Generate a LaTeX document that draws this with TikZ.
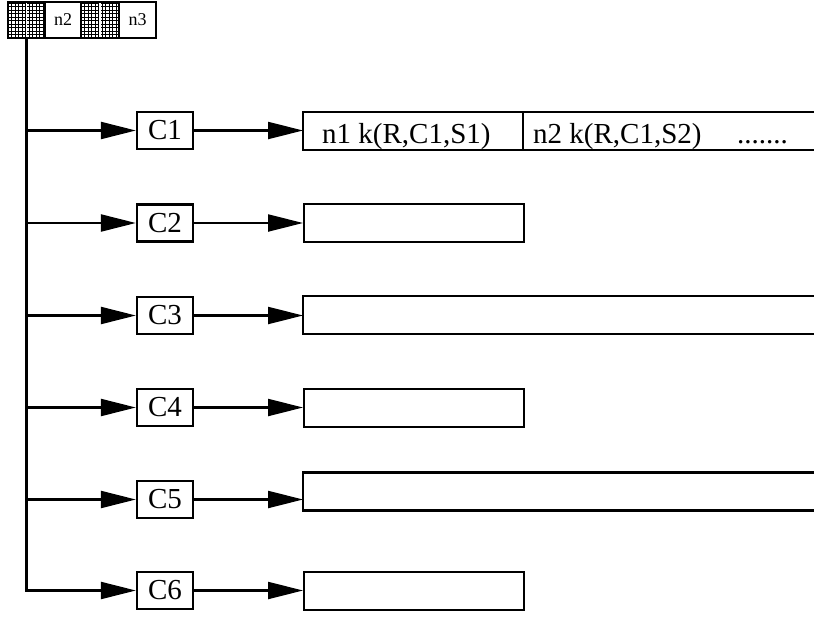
\documentclass[tikz,border=0pt]{standalone}
\usepackage{fontspec}
\setmainfont{Liberation Serif}
\usetikzlibrary{arrows.meta}
\begin{document}
\begin{tikzpicture}[x=1pt,y=-1pt,
  lw/.style={line width=2.3pt},
  arr/.style={line width=2.2pt,-{Triangle[length=35pt,width=17pt]}},
  cbox/.style={draw,lw,minimum width=56pt,minimum height=37pt,inner sep=0pt,font=\fontsize{29}{31}\selectfont},
  rbox/.style={draw,lw,minimum width=220pt,minimum height=37.5pt,inner sep=0pt,anchor=west},
  rlong/.style={minimum width=530pt,minimum height=37.5pt,inner sep=0pt,anchor=west},
  hcell/.style={draw,lw,minimum height=36pt,inner sep=0pt,font=\fontsize{18}{20}\selectfont},
  hatch/.style={hcell,path picture={
     \foreach \i in {1,...,10}{
       \draw[line width=0.8pt] ([xshift=\i*3.5pt]path picture bounding box.south west) -- ([xshift=\i*3.5pt]path picture bounding box.north west);
       \draw[line width=0.8pt] ([yshift=\i*3.5pt]path picture bounding box.south west) -- ([yshift=\i*3.5pt]path picture bounding box.south east);}
     \draw[white,line width=1.2pt] (path picture bounding box.south) -- (path picture bounding box.north);}},
  txt/.style={font=\fontsize{29}{31}\selectfont,anchor=base west,inner sep=0pt}
]
\useasboundingbox[fill=white] (0,0) rectangle (814,616);

% header
\node[hatch,minimum width=37pt] (h1) at (26.5,20) {};
\node[hcell,minimum width=36pt] (h2) at (63,20) {\raisebox{-6pt}{n2}};
\node[hatch,minimum width=38pt] (h3) at (100,20) {};
\node[hcell,minimum width=37pt] (h4) at (137.5,20) {\raisebox{-6pt}{n3}};

% C boxes
\node[cbox] (c1) at (165,130.5) {C1};
\node[cbox] (c2) at (165,223) {C2};
\node[cbox] (c3) at (165,315.5) {C3};
\node[cbox] (c4) at (165,407.5) {\raisebox{-5pt}{C4}};
\node[cbox] (c5) at (165,499.5) {C5};
\node[cbox] (c6) at (165,590.5) {C6};

% right boxes
\node[rlong] (r1) at (303,131) {};
\draw[lw] (r1.north east) -- (r1.north west) -- (r1.south west) -- (r1.south east);
\node[rbox] (r2) at (303,223) {};
\node[rlong] (r3) at (303,315) {};
\draw[lw] (r3.north east) -- (r3.north west) -- (r3.south west) -- (r3.south east);
\node[rbox] (r4) at (303,408) {};
\node[rlong] (r5) at (303,491.5) {};
\draw[lw] (r5.north east) -- (r5.north west) -- (r5.south west) -- (r5.south east);
\node[rbox] (r6) at (303,591) {};

% C1 row contents
\coordinate (sep) at (523,131);
\draw[line width=1.6pt] (sep |- r1.north) -- (sep |- r1.south);
\node[txt] (t1) at (322,143) {n1 k(R,C1,S1)};
\node[txt] (t2) at (533,143) {n2 k(R,C1,S2)};
\node[txt] (t3) at (737,143) {.......};

% trunk
\draw[arr] (h1.south) -- (h1.south |- c6.west) -- (c6.west);
\foreach \k in {1,...,5}{
  \draw[arr] (h1.south |- c\k.west) -- (c\k.west);
}
% second arrows
\foreach \k in {1,...,6}{
  \draw[arr] (c\k.east) -- (c\k.east -| r\k.west);
}
\end{tikzpicture}
\end{document}
